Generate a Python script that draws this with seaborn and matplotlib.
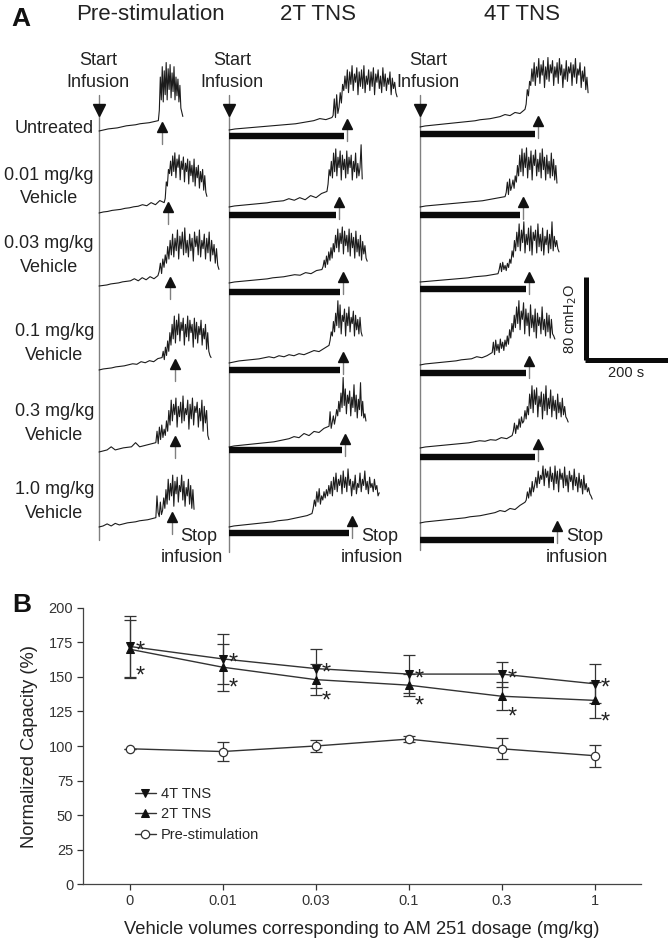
import numpy as np
import matplotlib
matplotlib.use("Agg")
import matplotlib.pyplot as plt
import seaborn as sns

sns.set_style("ticks")
plt.rcParams['font.family'] = ['Liberation Sans', 'DejaVu Sans']

# ---------------- Panel B data (normalized capacity, %) ----------------
doses = ["0", "0.01", "0.03", "0.1", "0.3", "1"]
tns4_mean = [172, 163, 156, 152, 152, 145]
tns4_err = [22, 18, 14, 14, 9, 14]
tns2_mean = [170, 157, 148, 144, 136, 133]
tns2_err = [21, 17, 11, 8, 10, 13]
pre_mean = [98, 96, 100, 105, 98, 93]
pre_err = [0, 7, 4.5, 2, 7.5, 8]

# ---------------- Panel A data (bladder pressure traces) ----------------
row_labels = ["Untreated", "0.01 mg/kg\nVehicle", "0.03 mg/kg\nVehicle",
              "0.1 mg/kg\nVehicle", "0.3 mg/kg\nVehicle", "1.0 mg/kg\nVehicle"]
col_titles = ["Pre-stimulation", "2T TNS", "4T TNS"]

# times in s from start of infusion, pressures in cmH2O above the start value
pre_t_burst = [143, 157, 142, 152, 137, 137]
pre_t_end = [202, 260, 289, 270, 265, 229]
pre_t_stop = [151, 166, 171, 183, 183, 175]
pre_fill = [
    [0, 1, 2, 2.5, 3, 4, 5, 5.5, 6, 7, 7.5, 8, 9, 10],
    [0, 1, 1.5, 2.5, 3, 3.5, 4.5, 5, 6, 6.5, 8, 7, 10, 8, 12, 10],
    [0, 0.5, 1, 2, 2.5, 3, 4, 4.5, 5, 7, 5, 8, 6, 9, 7, 10],
    [0, 1, 1.5, 2, 3, 3.5, 4, 5, 6, 5.5, 8, 7, 9, 8, 11, 12],
    [0, 1, 2, 5, 2, 3, 4, 4.5, 5, 9, 5, 6, 7, 8, 9],
    [0, 1, 3, 1, 3.5, 2, 3, 4, 4.5, 5, 6, 6.5, 7, 8, 9],
]
pre_burst = [
    [20, 52, 30, 62, 28, 58, 35, 66, 30, 60, 40, 64, 32, 56, 38, 62, 30, 52, 34, 50, 28, 44, 22, 18, 14],
    [14, 30, 26, 42, 38, 50, 36, 55, 40, 58, 34, 52, 44, 56, 32, 50, 42, 54, 30, 48, 40, 52, 28, 50, 36,
     46, 30, 52, 26, 44, 34, 46, 24, 40, 30, 42, 22, 36, 20, 16],
    [14, 22, 12, 26, 18, 30, 22, 38, 26, 44, 30, 50, 28, 46, 34, 54, 26, 48, 36, 52, 30, 56, 32, 44, 28,
     50, 34, 46, 24, 52, 38, 48, 30, 54, 28, 44, 36, 50, 26, 46, 32, 52, 24, 44, 30, 40, 22, 36, 20, 16],
    [18, 10, 22, 14, 28, 18, 36, 24, 44, 30, 52, 26, 48, 34, 54, 28, 46, 38, 50, 24, 44, 32, 52, 28, 48,
     36, 44, 22, 50, 30, 46, 26, 42, 34, 48, 24, 40, 30, 44, 20, 36, 18, 14, 12],
    [20, 8, 24, 12, 26, 14, 22, 16, 30, 20, 40, 26, 50, 30, 46, 36, 52, 24, 44, 34, 48, 28, 54, 30, 42,
     36, 50, 22, 46, 32, 52, 26, 44, 38, 48, 24, 42, 30, 50, 20, 44, 28, 40, 16, 12],
    [30, 14, 10, 24, 12, 16, 28, 18, 36, 22, 46, 26, 42, 30, 50, 20, 44, 32, 48, 24, 40, 34, 50, 26, 44,
     20, 38, 30, 46, 22, 40, 18, 36, 17],
]

tns2_t_burst = [248, 236, 224, 241, 241, 200]
tns2_t_end = [405, 321, 333, 321, 330, 362]
tns2_t_stop = [284, 265, 275, 275, 280, 296]
tns2_fill = [
    [0, 1, 1.5, 2, 2.5, 3, 3.5, 4, 4.5, 5, 5.5, 6, 7, 8, 9, 11, 10, 12],
    [0, 1, 1.5, 2, 2.5, 3, 3.5, 4, 5, 5.5, 6, 8, 6.5, 9, 7, 11, 9, 13, 15],
    [0, 1, 1.5, 2, 2.5, 3, 3.5, 4, 5, 5.5, 6, 7, 8, 7.5, 10, 9, 12, 13],
    [0, 1, 2, 2.5, 3, 3.5, 4, 5, 6, 5, 7, 6, 8, 7, 9, 8, 10, 12, 11, 14, 17],
    [0, 1, 1.5, 2, 2.5, 3, 3.5, 4, 4.5, 5, 6, 7, 8, 10, 9, 13, 11, 15, 14, 18, 20],
    [0, 1, 1.5, 2, 2.5, 3, 3.5, 4, 4.5, 5, 6, 6.5, 7, 8, 9, 10, 11, 13],
]
tns2_burst = [
    [14, 30, 12, 34, 16, 22, 36, 26, 44, 38, 52, 40, 58, 36, 56, 44, 62, 38, 54, 46, 60, 34, 56, 42, 58,
     40, 62, 36, 52, 44, 58, 38, 56, 42, 60, 34, 54, 46, 58, 40, 52, 36, 60, 42, 54, 38, 50, 44, 56, 34,
     50, 40, 46, 36, 32],
    [22, 36, 30, 44, 28, 52, 34, 56, 30, 48, 38, 54, 26, 50, 36, 46, 28, 54, 32, 48, 38, 50, 26, 44, 34,
     52, 28, 42, 30, 38, 60, 27],
    [16, 22, 15, 26, 18, 30, 22, 34, 24, 38, 30, 46, 34, 52, 30, 48, 38, 54, 28, 50, 36, 46, 30, 52, 26,
     48, 34, 44, 24, 50, 30, 42, 26, 46, 22, 40, 28, 36, 24, 21],
    [22, 30, 26, 40, 30, 48, 36, 60, 34, 56, 28, 46, 40, 52, 26, 48, 36, 54, 30, 44, 38, 50, 26, 46, 32,
     42, 28, 44, 30, 26],
    [34, 18, 24, 30, 22, 28, 36, 30, 44, 34, 52, 38, 67, 40, 56, 32, 50, 42, 54, 30, 48, 38, 60, 34, 50,
     28, 46, 36, 62, 30, 44, 28, 32, 25],
    [18, 26, 20, 34, 24, 37, 22, 30, 26, 34, 28, 36, 30, 40, 32, 44, 30, 48, 36, 52, 34, 46, 40, 50, 32,
     54, 38, 48, 34, 56, 40, 46, 30, 44, 36, 50, 32, 42, 38, 52, 34, 46, 40, 54, 36, 44, 32, 48, 38, 42,
     34, 46, 36, 40, 30, 33],
]

tns4_t_burst = [253, 205, 188, 174, 222, 253]
tns4_t_end = [405, 330, 335, 325, 357, 415]
tns4_t_stop = [284, 249, 263, 263, 285, 330]
tns4_fill = [
    [0, 1, 1.5, 2, 2.5, 3, 3.5, 4, 4.5, 5, 5.5, 6, 7, 7.5, 8, 9, 10, 12, 11, 14, 13, 17],
    [0, 1, 1.5, 2, 2.5, 3, 3.5, 4, 4.5, 5, 5.5, 6, 7, 8, 9, 10],
    [0, 0.5, 1, 1.5, 2, 2.5, 3, 3.5, 4, 5, 5.5, 6, 7, 8],
    [0, 1, 1.5, 2, 2.5, 3, 3.5, 4, 5, 5.5, 6, 8, 7, 9, 12],
    [0, 1, 1.5, 2, 2.5, 3, 3.5, 4, 4.5, 5, 6, 7, 6.5, 8, 7.5, 10, 9, 12],
    [0, 1, 1.5, 2, 2.5, 3, 3.5, 4, 4.5, 5, 6, 6.5, 7, 8, 9, 10, 12, 11, 14, 13, 17, 20],
]
tns4_burst = [
    [22, 36, 30, 44, 40, 56, 44, 62, 40, 58, 48, 66, 42, 60, 50, 64, 38, 58, 46, 67, 44, 60, 52, 64, 40,
     58, 48, 62, 42, 66, 50, 60, 38, 56, 46, 64, 44, 58, 52, 62, 40, 60, 48, 66, 42, 56, 50, 62, 38, 54,
     44, 58, 36, 48, 33],
    [14, 24, 12, 27, 16, 20, 26, 18, 30, 24, 40, 30, 50, 34, 56, 30, 52, 38, 57, 28, 48, 36, 54, 26, 50,
     40, 55, 30, 46, 34, 52, 28, 56, 36, 48, 26, 50, 32, 44, 28, 52, 30, 46, 26, 40, 23],
    [12, 18, 10, 19, 12, 16, 11, 18, 14, 22, 18, 30, 24, 40, 30, 48, 34, 56, 30, 50, 38, 58, 28, 46, 36,
     52, 30, 54, 26, 48, 40, 50, 28, 56, 34, 46, 30, 52, 26, 44, 36, 50, 28, 46, 32, 58, 30, 44, 34, 40,
     32, 29],
    [22, 10, 24, 14, 20, 12, 25, 16, 22, 14, 24, 18, 28, 20, 34, 26, 40, 32, 48, 36, 56, 40, 62, 34, 52,
     44, 60, 30, 54, 38, 50, 28, 58, 36, 48, 32, 54, 26, 50, 38, 46, 30, 56, 34, 44, 28, 50, 32, 48, 26,
     44, 30, 28, 25],
    [16, 24, 14, 22, 18, 28, 20, 30, 24, 26, 36, 28, 40, 32, 52, 38, 60, 34, 56, 42, 58, 30, 50, 40, 54,
     28, 52, 36, 60, 32, 48, 38, 56, 30, 50, 36, 46, 28, 52, 34, 44, 30, 48, 32, 40, 30, 28, 25],
    [22, 30, 24, 34, 26, 40, 30, 36, 44, 34, 50, 38, 46, 42, 55, 36, 52, 44, 50, 34, 54, 40, 48, 32, 55,
     38, 50, 30, 52, 42, 48, 34, 54, 36, 46, 30, 50, 40, 46, 32, 52, 36, 44, 30, 48, 34, 42, 28, 46, 32,
     38, 30, 34, 28, 26, 23],
]

# ---------------- layout (pixels of the 668x941 figure) ----------------
PX_S = 83 / 200.0    # px per second (200 s scale bar)
PX_CM = 83 / 80.0    # px per cmH2O (80 cmH2O scale bar)
col_x = [99, 229, 420]
base_y = [[131, 213, 286, 370, 452, 527],
          [130, 207, 283, 363, 447, 527],
          [127, 207, 282, 365, 448, 523]]
tip_y = [[123, 203, 278, 360, 437, 513],
         [120, 198, 273, 353, 435, 517],
         [117, 198, 273, 357, 440, 522]]
bar_y = [None,
         [136, 215, 292, 370, 450, 533],
         [134, 215, 289, 373, 457, 540]]
line_bottom = [540, 552, 550]


def X(px):
    return px / PX_S


def Y(py):
    return -py / PX_CM


fig = plt.figure(figsize=(6.68, 9.41), dpi=100)

# ---------------- Panel A ----------------
ax_a = fig.add_axes([0, 0, 1, 1])
ax_a.set_xlim(0, X(668))
ax_a.set_ylim(Y(941), 0)
ax_a.axis("off")

trace_col = "#1c1c1c"
columns = [
    (pre_fill, pre_burst, pre_t_burst, pre_t_end, pre_t_stop),
    (tns2_fill, tns2_burst, tns2_t_burst, tns2_t_end, tns2_t_stop),
    (tns4_fill, tns4_burst, tns4_t_burst, tns4_t_end, tns4_t_stop),
]
for c, (fills, bursts, tbs, tes, tss) in enumerate(columns):
    x0 = X(col_x[c])
    # start-infusion line and arrow
    ax_a.plot([x0, x0], [Y(115), Y(line_bottom[c])], color="#808080", lw=1.0)
    ax_a.plot([x0, x0], [Y(95), Y(106)], color="#808080", lw=1.0)
    ax_a.plot([x0], [Y(110)], marker="v", ms=8, color="#111111", mec="#111111")
    for r in range(6):
        fill = np.array(fills[r], dtype=float)
        burst = np.array(bursts[r], dtype=float)
        t_fill = np.linspace(0, tbs[r], len(fill))
        t_burst = np.linspace(tbs[r], tes[r], len(burst) + 1)[1:]
        t = np.concatenate([t_fill, t_burst])
        p = np.concatenate([fill, burst])
        y0 = Y(base_y[c][r])
        sns.lineplot(x=x0 + t, y=y0 + p, ax=ax_a, color=trace_col, lw=0.8,
                     sort=False, estimator=None)
        xs = x0 + tss[r]
        if bar_y[c] is not None:
            ax_a.hlines(Y(bar_y[c][r]), x0, xs - 3 / PX_S, color="#0a0a0a", lw=4.6)
        # stop-infusion arrow
        ty = tip_y[c][r]
        ax_a.plot([xs, xs], [Y(ty + 8), Y(ty + 21)], color="#808080", lw=1.0)
        ax_a.plot([xs], [Y(ty + 4)], marker="^", ms=7.5, color="#111111", mec="#111111")
    # stop infusion label
    xs6 = X(col_x[c]) + tss[5]
    ax_a.text(xs6 + 9 / PX_S, Y(541), "Stop", fontsize=13, ha="left", va="baseline", color="#222")
    ax_a.text(xs6 + 20 / PX_S, Y(562), "infusion", fontsize=13, ha="center", va="baseline", color="#222")

# start infusion labels
start_cx = [98, 232, 428]
for cx in start_cx:
    ax_a.text(X(cx), Y(65), "Start", fontsize=13, ha="center", va="baseline", color="#222")
    ax_a.text(X(cx), Y(87), "Infusion", fontsize=13, ha="center", va="baseline", color="#222")

# row labels
label_base = [133, 203, 272, 360, 440, 518]
for lab, yb in zip(row_labels, label_base):
    ax_a.text(X(94), Y(yb), lab, fontsize=13, ha="right", va="baseline",
              multialignment="center", linespacing=1.5, color="#222")

# column titles
title_cx = [150, 318, 522]
for tt, cx in zip(col_titles, title_cx):
    ax_a.text(X(cx), Y(20), tt, fontsize=16, ha="center", va="baseline", color="#222")
ax_a.text(X(11), Y(26), "A", fontsize=19, fontweight="bold", ha="left", va="baseline", color="#111")
ax_a.text(X(12), Y(612), "B", fontsize=19, fontweight="bold", ha="left", va="baseline", color="#111")

# scale bar
sb_x, sb_y = X(586), Y(360)
ax_a.plot([sb_x, sb_x], [sb_y, sb_y + 80], color="#0a0a0a", lw=3.6, solid_capstyle="butt")
ax_a.plot([sb_x - 1.5 / PX_S, sb_x + 200], [sb_y, sb_y], color="#0a0a0a", lw=3.6, solid_capstyle="butt")
ax_a.text(X(571), Y(319), "80 cmH$_2$O", rotation=90, fontsize=10.5, ha="center", va="center", color="#222")
ax_a.text(X(626), Y(373), "200 s", fontsize=10.5, ha="center", va="center", color="#222")

# ---------------- Panel B ----------------
ax_b = fig.add_axes([83 / 668, (941 - 884.3) / 941, 558 / 668, 276.6 / 941])
pos = np.arange(len(doses))
line_col = "#333333"
for m, e in [(tns4_mean, tns4_err), (tns2_mean, tns2_err), (pre_mean, pre_err)]:
    ax_b.errorbar(pos, m, yerr=e, fmt="none", ecolor=line_col, elinewidth=0.9, capsize=4, capthick=0.9)
sns.lineplot(x=pos, y=tns4_mean, ax=ax_b, color=line_col, lw=1.0, marker="v", ms=6,
             mfc="#111111", mec="#111111", label="4T TNS", zorder=3)
sns.lineplot(x=pos, y=tns2_mean, ax=ax_b, color=line_col, lw=1.0, marker="^", ms=6,
             mfc="#111111", mec="#111111", label="2T TNS", zorder=3)
sns.lineplot(x=pos, y=pre_mean, ax=ax_b, color=line_col, lw=1.0, marker="o", ms=6,
             mfc="white", mec=line_col, mew=0.9, label="Pre-stimulation", zorder=3)

# significance stars
for i in pos:
    ax_b.annotate("*", (i, tns4_mean[i]), xytext=(7.5, -8), textcoords="offset points",
                  fontsize=17, ha="center", va="baseline", color="#222")
    dy = -24 if i == 0 else -20
    ax_b.annotate("*", (i, tns2_mean[i]), xytext=(7.5, dy), textcoords="offset points",
                  fontsize=17, ha="center", va="baseline", color="#222")

ax_b.set_xlim(-0.5, 5.5)
ax_b.set_ylim(0, 200)
ax_b.set_yticks(np.arange(0, 201, 25))
ax_b.set_xticks(pos)
ax_b.set_xticklabels(doses)
ax_b.tick_params(labelsize=10.5, colors="#333", length=4, width=0.9, pad=3)
for s in ["left", "bottom"]:
    ax_b.spines[s].set_color("#444")
    ax_b.spines[s].set_linewidth(0.9)
sns.despine(ax=ax_b)
ax_b.set_xlabel("Vehicle volumes corresponding to AM 251 dosage (mg/kg)", fontsize=13.2, color="#222", labelpad=9)
ax_b.set_ylabel("Normalized Capacity (%)", fontsize=13.2, color="#222", labelpad=8)
ax_b.legend(loc="upper left", bbox_to_anchor=(0.093, 0.352), frameon=False, fontsize=10.5,
            handlelength=1.45, handletextpad=0.35, labelspacing=0.45, borderpad=0, borderaxespad=0)

fig.savefig("out.png", dpi=100)
